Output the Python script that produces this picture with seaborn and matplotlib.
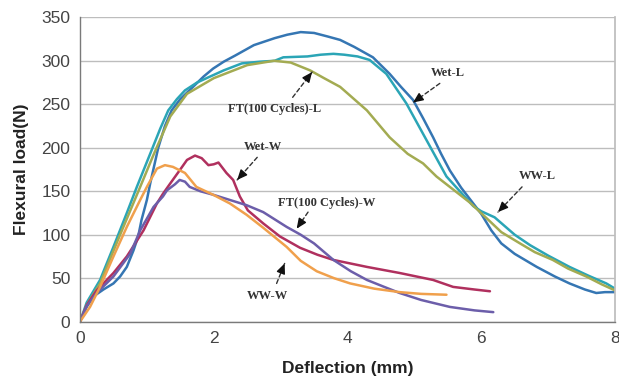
import numpy as np
import pandas as pd
import matplotlib
matplotlib.use("Agg")
import matplotlib.pyplot as plt
import seaborn as sns

# ---------------- data ----------------
wet_l_x = [0, 0.1, 0.2, 0.35, 0.5, 0.6, 0.7, 0.8, 0.87, 0.92, 1.0, 1.05, 1.17, 1.27, 1.37,
           1.5, 1.69, 1.85, 1.99, 2.15, 2.32, 2.6, 2.91, 3.1, 3.3, 3.5, 3.7, 3.89,
           4.1, 4.38, 4.63, 4.8, 4.98, 5.13, 5.28, 5.4, 5.53, 5.7, 5.88, 6.0, 6.15,
           6.3, 6.5, 6.83, 7.1, 7.32, 7.55, 7.72, 7.85, 8.0]
wet_l_y = [0, 17, 29, 37, 44, 52, 63, 82, 98, 117, 140, 159, 200, 225, 243,
           256, 270, 282, 291, 299, 306, 318, 326, 330, 333, 332, 328, 324,
           316, 304, 285, 270, 255, 234, 212, 193, 174, 154, 136, 124, 105,
           90, 78, 63, 52, 44, 37, 33, 34, 34]

ww_l_x = [0, 0.1, 0.3, 0.5, 0.7, 0.85, 1.07, 1.2, 1.32, 1.45, 1.57, 1.75, 1.92, 2.15,
          2.42, 2.7, 2.91, 3.04, 3.4, 3.6, 3.79, 3.95, 4.15, 4.33, 4.58, 4.88, 5.18,
          5.48, 5.68, 5.88, 6.0, 6.2, 6.5, 6.73, 7.0, 7.32, 7.6, 7.87, 8.0]
ww_l_y = [0, 22, 48, 86, 125, 155, 197, 222, 243, 256, 266, 275, 281, 289,
          297, 299, 300, 304, 305, 307, 308, 307, 305, 301, 285, 251, 209,
          167, 150, 133, 127, 120, 100, 88, 76, 63, 53, 44, 38]

ft_l_x = [0, 0.1, 0.3, 0.6, 0.9, 1.1, 1.35, 1.6, 2.0, 2.5, 2.9, 3.15, 3.44, 3.65, 3.89,
          4.29, 4.63, 4.9, 5.13, 5.33, 5.53, 5.83, 6.08, 6.3, 6.58, 6.8, 7.07, 7.3,
          7.57, 7.8, 8.0]
ft_l_y = [0, 19, 44, 100, 155, 192, 236, 262, 280, 295, 300, 298, 289, 280, 270,
          243, 212, 193, 182, 167, 155, 137, 119, 103, 90, 80, 71, 61,
          52, 43, 36]

wet_w_x = [0, 0.1, 0.25, 0.5, 0.7, 0.95, 1.15, 1.24, 1.35, 1.49, 1.6, 1.72, 1.82, 1.92,
           2.0, 2.07, 2.19, 2.29, 2.39, 2.51, 2.74, 2.99, 3.29, 3.55, 3.79, 4.29,
           4.78, 5.28, 5.58, 5.9, 6.13]
wet_w_y = [0, 19, 36, 56, 75, 105, 136, 147, 159, 174, 186, 191, 188, 180,
           181, 183, 171, 163, 144, 128, 113, 98, 85, 77, 71, 63,
           56, 48, 40, 37, 35]

ft_w_x = [0, 0.1, 0.25, 0.5, 0.75, 0.9, 1.1, 1.24, 1.3, 1.42, 1.49, 1.57, 1.64, 1.8,
          1.99, 2.24, 2.49, 2.74, 3.09, 3.3, 3.5, 3.79, 4.05, 4.29, 4.55, 4.78,
          5.1, 5.53, 5.9, 6.18]
ft_w_y = [0, 18, 33, 52, 78, 105, 132, 144, 151, 158, 163, 161, 155, 150,
          146, 140, 134, 126, 109, 100, 90, 71, 58, 48, 40, 33,
          25, 17, 13, 11]

ww_w_x = [0, 0.15, 0.3, 0.5, 0.7, 0.9, 1.0, 1.15, 1.27, 1.39, 1.57, 1.74, 1.99, 2.24,
          2.49, 2.74, 3.09, 3.3, 3.54, 3.8, 4.04, 4.4, 4.78, 5.1, 5.48]
ww_w_y = [0, 17, 40, 75, 109, 140, 155, 176, 180, 178, 171, 155, 146, 136,
          123, 108, 86, 70, 58, 50, 44, 38, 34, 32, 31]

series = ["Wet-L", "WW-L", "FT(100 Cycles)-L", "Wet-W", "FT(100 Cycles)-W", "WW-W"]
xs = [wet_l_x, ww_l_x, ft_l_x, wet_w_x, ft_w_x, ww_w_x]
ys = [wet_l_y, ww_l_y, ft_l_y, wet_w_y, ft_w_y, ww_w_y]
colors = ["#3576B3", "#2BA5B6", "#A3AB52", "#B0305E", "#6C5EAA", "#F0A04C"]

x_ticks = [0, 2, 4, 6, 8]
y_ticks = [0, 50, 100, 150, 200, 250, 300, 350]

# annotation label, text pos, tail, head (data coords)
annots = [
    ("Wet-L", (5.50, 286), (5.38, 274), (4.98, 252)),
    ("FT(100 Cycles)-L", (2.91, 245), (3.18, 258), (3.47, 287)),
    ("Wet-W", (2.74, 201), (2.65, 189), (2.35, 163)),
    ("FT(100 Cycles)-W", (3.69, 136), (3.41, 126), (3.24, 107)),
    ("WW-W", (2.81, 29), (2.94, 44), (3.06, 67)),
    ("WW-L", (6.84, 168), (6.61, 155), (6.25, 126)),
]

frames = []
for name, x, y in zip(series, xs, ys):
    frames.append(pd.DataFrame({"x": x, "y": y, "series": name}))
df = pd.concat(frames, ignore_index=True)

# ---------------- plot ----------------
sns.set_theme(style="white")
plt.rcParams["font.family"] = ["Liberation Sans", "DejaVu Sans"]

fig = plt.figure(figsize=(6.19, 3.77), dpi=100)
ax = fig.add_axes([80 / 619, 1 - 321.7 / 377, (615 - 80) / 619, (321.7 - 17.3) / 377])

sns.lineplot(data=df, x="x", y="y", hue="series", hue_order=series,
             palette=dict(zip(series, colors)), sort=False, estimator=None,
             linewidth=1.8, legend=False, ax=ax)
for line in ax.get_lines():
    line.set_solid_joinstyle("round")
    line.set_solid_capstyle("round")

ax.set_xlim(0, 8)
ax.set_ylim(0, 350)
ax.set_xticks(x_ticks)
ax.set_yticks(y_ticks)
ax.yaxis.grid(True, color="#BDBDBD", linewidth=1.0)
ax.xaxis.grid(False)
ax.set_axisbelow(True)
for s in ["left", "bottom"]:
    ax.spines[s].set_color("#7A7A7A")
    ax.spines[s].set_linewidth(1.0)
ax.spines["right"].set_color("#BDBDBD")
ax.spines["top"].set_visible(False)
ax.tick_params(axis="both", direction="out", length=4, width=1, color="#7A7A7A",
               labelsize=12.5, labelcolor="#444444", pad=3)
ax.tick_params(axis="x", pad=3)

ax.set_xlabel("Deflection (mm)", fontsize=12.5, fontweight="bold", color="#222222")
ax.set_ylabel("Flexural load(N)", fontsize=12.5, fontweight="bold", color="#222222")
ax.xaxis.set_label_coords(0.5, -(368 - 321.7) / 304.4)
ax.xaxis.label.set_va("center")
ax.yaxis.set_label_coords(-(80 - 22) / 535, 0.5)
ax.yaxis.label.set_va("center")

for label, tpos, tail, head in annots:
    ax.text(tpos[0], tpos[1], label, ha="center", va="center", fontsize=9,
            fontweight="bold", family="Liberation Serif", color="#333333")
    ax.annotate("", xy=head, xytext=tail,
                arrowprops=dict(arrowstyle="-", linestyle=(0, (3, 2)), color="#333333", lw=1.0,
                                shrinkA=0, shrinkB=0))
    hx = head[0] + (tail[0] - head[0]) * 0.25
    hy = head[1] + (tail[1] - head[1]) * 0.25
    ax.annotate("", xy=head, xytext=(hx, hy),
                arrowprops=dict(arrowstyle="-|>,head_length=0.5,head_width=0.22",
                                color="#111111", lw=1.0, shrinkA=0, shrinkB=0))

fig.savefig("out.png", dpi=100)
